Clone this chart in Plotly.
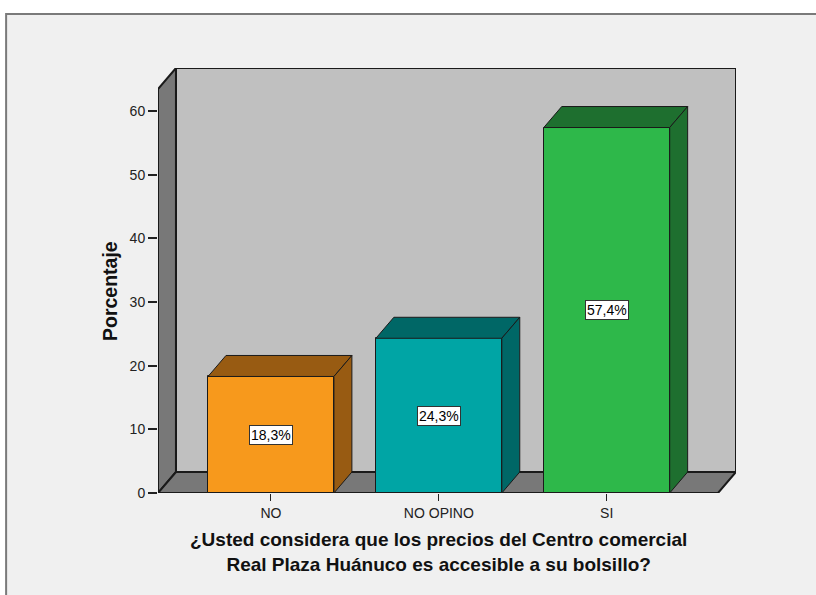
import plotly.graph_objects as go

categories = ["NO", "NO OPINO", "SI"]
values = [18.3, 24.3, 57.4]
labels = ["18,3%", "24,3%", "57,4%"]
front_colors = ["#f7991c", "#00a5a5", "#2eb84a"]
side_colors = ["#985b12", "#006766", "#1e6f2f"]
y_ticks = [0, 10, 20, 30, 40, 50, 60]
y_title = "Porcentaje"
x_title_lines = ["¿Usted considera que los precios del Centro comercial",
                 "Real Plaza Huánuco es accesible a su bolsillo?"]

W, H = 816, 595
FONT = "Liberation Sans, Arial"
# geometry (data units)
BAR_W = 0.75
XL = -0.673          # front-left edge of the floor
XR = 2.663           # front-right edge of the floor
DX = 0.107           # depth offset in x
DY = 3.30            # depth offset in y
YT = 63.45           # top of the front-left wall edge
x_range = [XL, XR + DX]
y_range = [0, YT + DY]

ml, mt = 158, 68
pw = (x_range[1] - x_range[0]) * 168.0
ph = (y_range[1] - y_range[0]) * 6.367
mr = W - ml - pw
mb = H - mt - ph


def px(xp):
    return (xp - ml) / pw


def py(yp):
    return 1 - (yp - mt) / ph


EDGE = "#1a1a1a"
shapes = []
# outer frame
shapes.append(dict(type="rect", xref="paper", yref="paper", x0=px(6), x1=px(830), y0=py(14), y1=py(610),
                   fillcolor="#f0f0f0", line=dict(color="#7a7a7a", width=2), layer="below"))
# back wall
shapes.append(dict(type="path", xref="x", yref="y", layer="below",
                   path=f"M {XL+DX},{DY} L {XL+DX},{YT+DY} L {XR+DX},{YT+DY} L {XR+DX},{DY} Z",
                   fillcolor="#c0c0c0", line=dict(color=EDGE, width=2)))
# left wall
shapes.append(dict(type="path", xref="x", yref="y", layer="below",
                   path=f"M {XL},0 L {XL},{YT} L {XL+DX},{YT+DY} L {XL+DX},{DY} Z",
                   fillcolor="#787878", line=dict(color=EDGE, width=2)))
# floor
shapes.append(dict(type="path", xref="x", yref="y", layer="below",
                   path=f"M {XL},0 L {XL+DX},{DY} L {XR+DX},{DY} L {XR},0 Z",
                   fillcolor="#787878", line=dict(color=EDGE, width=2)))

fig = go.Figure()

xs = list(range(len(categories)))
for i, v in enumerate(values):
    x0 = xs[i] - BAR_W / 2
    x1 = xs[i] + BAR_W / 2
    # top face
    fig.add_trace(go.Scatter(x=[x0, x0 + DX, x1 + DX, x1, x0], y=[v, v + DY, v + DY, v, v],
                             mode="lines", fill="toself", fillcolor=side_colors[i],
                             line=dict(color=EDGE, width=1), hoverinfo="skip", showlegend=False))
    # side face
    fig.add_trace(go.Scatter(x=[x1, x1, x1 + DX, x1 + DX, x1], y=[0, v, v + DY, DY, 0],
                             mode="lines", fill="toself", fillcolor=side_colors[i],
                             line=dict(color=EDGE, width=1), hoverinfo="skip", showlegend=False))

fig.add_trace(go.Bar(x=xs, y=values, width=BAR_W, marker=dict(color=front_colors, line=dict(color=EDGE, width=1)),
                     showlegend=False, hoverinfo="skip"))

annotations = []
for i, v in enumerate(values):
    annotations.append(dict(x=xs[i], y=v / 2, xref="x", yref="y", text=labels[i], showarrow=False,
                            font=dict(family=FONT, size=14, color="#000"),
                            bgcolor="white", bordercolor="#333", borderwidth=1, borderpad=1))

annotations.append(dict(x=px(110), y=py(291), xref="paper", yref="paper", text=f"<b>{y_title}</b>",
                        textangle=-90, showarrow=False, xanchor="center", yanchor="middle",
                        font=dict(family=FONT, size=19.5, color="#111")))
annotations.append(dict(x=px(438.5), y=py(552), xref="paper", yref="paper",
                        text="<b>" + "<br>".join(x_title_lines) + "</b>", showarrow=False,
                        xanchor="center", yanchor="middle", align="center",
                        font=dict(family=FONT, size=19, color="#111")))

fig.update_layout(
    width=W, height=H,
    margin=dict(l=ml, r=mr, t=mt, b=mb, pad=0),
    paper_bgcolor="white", plot_bgcolor="rgba(0,0,0,0)",
    shapes=shapes, annotations=annotations,
    bargap=0,
    xaxis=dict(range=x_range, tickvals=xs, ticktext=categories, showgrid=False, zeroline=False,
               showline=False, ticks="outside", ticklen=7, tickcolor="#222", tickwidth=1,
               tickfont=dict(family=FONT, size=14, color="#222")),
    yaxis=dict(range=y_range, tickvals=y_ticks, showgrid=False, zeroline=False, showline=False,
               ticks="outside", ticklen=9, tickcolor="#222", tickwidth=2,
               tickfont=dict(family=FONT, size=14, color="#222")),
)

fig.write_html("out.html")
